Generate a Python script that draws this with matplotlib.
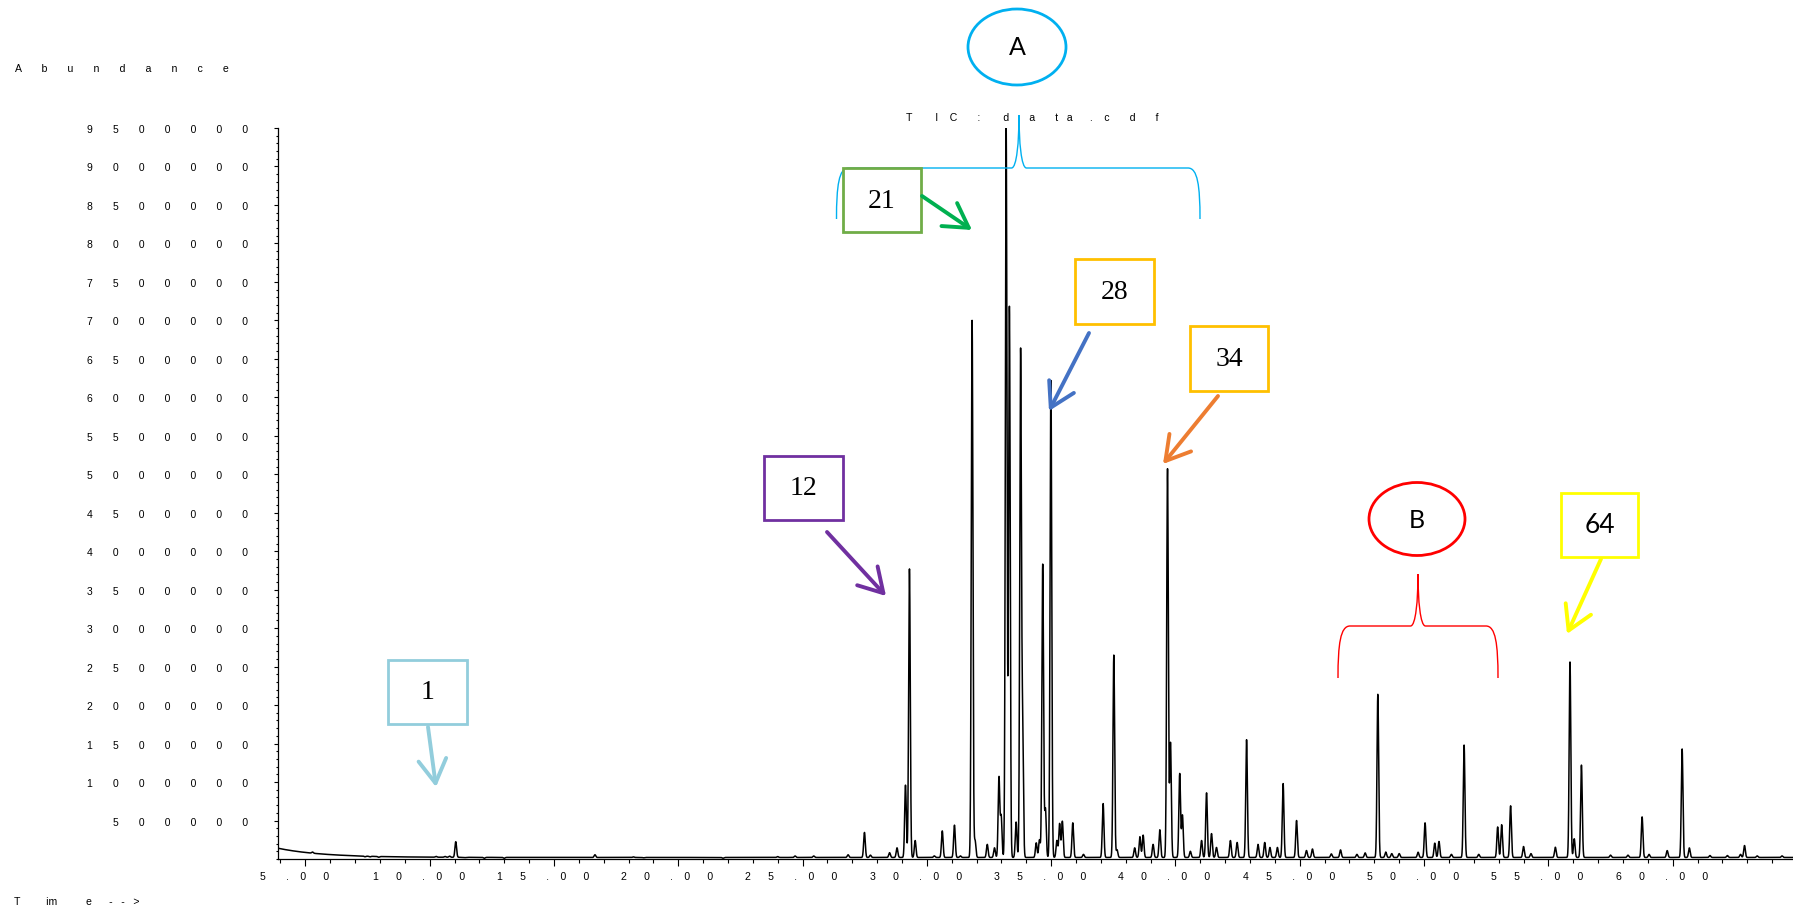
import numpy as np
import matplotlib
matplotlib.use("Agg")
import matplotlib.pyplot as plt
import matplotlib.transforms as mtransforms
from matplotlib.patches import Ellipse, Rectangle, FancyArrowPatch, PathPatch
from matplotlib.path import Path
from matplotlib.ticker import MultipleLocator, FixedLocator

plt.rcParams['font.family'] = ['Liberation Sans', 'DejaVu Sans']

W, H = 1793, 912

peak_times = [
    5.29, 7.40, 7.60, 7.95, 10.26, 10.62, 10.80, 11.05, 11.42, 12.20, 13.00,
    16.34, 16.65, 18.20, 18.60, 21.80, 24.00, 24.70, 25.45, 26.83,
    27.49, 27.73, 28.50, 28.80, 29.14, 29.30, 29.53, 30.30, 30.62, 31.11,
    31.35, 31.82, 31.94, 32.43, 32.72, 32.90, 32.99, 33.19, 33.32, 33.59,
    33.77, 33.85, 34.40, 34.53, 34.66, 34.77, 34.99, 35.23, 35.34, 35.45,
    35.87, 36.30, 37.09, 37.52, 37.65, 38.36, 38.57, 38.70, 39.10, 39.37,
    39.68, 39.80, 40.17, 40.28, 40.60, 41.05, 41.25, 41.45, 41.65, 42.21,
    42.48, 42.86, 43.32, 43.59, 43.80, 44.10, 44.33, 44.87, 45.27, 45.51,
    46.27, 46.64, 47.30, 47.63, 48.14, 48.46, 48.70, 49.00, 49.76, 50.04,
    50.43, 50.60, 51.10, 51.61, 52.20, 52.96, 53.12, 53.48, 54.00, 54.30,
    55.28, 55.87, 56.04, 56.33, 57.50, 58.20, 58.77, 59.05, 59.78, 60.38,
    60.67, 61.50, 62.20, 62.73, 62.89, 63.40, 64.40,
]
peak_heights = [
    35e3, 12e3, 12e3, 10e3, 30e3, 30e3, 35e3, 223e3, 16e3, 8e3, 8e3,
    20e3, 55e3, 27e3, 15e3, 10e3, 31e3, 39e3, 39e3, 55e3,
    345e3, 50e3, 82e3, 145e3, 960e3, 3.77e6, 240e3, 40e3, 365e3, 440e3,
    40e3, 7.00e6, 240e3, 190e3, 145e3, 1.06e6, 550e3, 9.50e6, 7.18e6, 480e3,
    6.55e6, 1.69e6, 210e3, 250e3, 3.83e6, 650e3, 6.22e6, 240e3, 460e3, 490e3,
    470e3, 60e3, 720e3, 2.65e6, 120e3, 145e3, 290e3, 310e3, 190e3, 380e3,
    5.07e6, 1.51e6, 1.11e6, 570e3, 100e3, 240e3, 860e3, 330e3, 150e3, 240e3,
    215e3, 1.55e6, 190e3, 215e3, 150e3, 150e3, 980e3, 500e3, 110e3, 130e3,
    66e3, 118e3, 60e3, 79e3, 2.14e6, 90e3, 70e3, 70e3, 88e3, 470e3,
    206e3, 228e3, 60e3, 1.48e6, 60e3, 416e3, 446e3, 691e3, 162e3, 70e3,
    153e3, 2.56e6, 263e3, 1.22e6, 50e3, 50e3, 547e3, 60e3, 109e3, 1.43e6,
    144e3, 45e3, 45e3, 60e3, 175e3, 40e3, 40e3,
]
peak_sigma = 0.033          # min
baseline_floor = 20e3
drift_start = 120e3         # solvent tail at the start of the run
drift_tau = 1.8             # min

t_start, t_end = 3.9, 64.84
y_ticks = list(range(500000, 9500001, 500000))
x_ticks = list(range(5, 61, 5))

# callouts (pixel positions, top-left origin)
boxes = [  # label, x0, y0, x1, y1, edge colour, font
    ("21", 843, 169, 921, 233, "#70AD47", "Liberation Serif"),
    ("28", 1075, 260, 1154, 325, "#FFC000", "Liberation Serif"),
    ("34", 1190, 327, 1268, 392, "#FFC000", "Liberation Serif"),
    ("12", 764, 457, 843, 521, "#7030A0", "Liberation Serif"),
    ("1", 388, 661, 467, 725, "#92CDDC", "Liberation Serif"),
    ("64", 1561, 494, 1638, 558, "#FFFF00", "Lato"),
]
arrows = [  # x_from, y_from, x_to, y_to, colour
    (922, 197, 972, 231, "#00B050"),
    (1089, 334, 1049, 412, "#4472C4"),
    (1218, 397, 1163, 465, "#ED7D31"),
    (827, 533, 886, 597, "#7030A0"),
    (428, 728, 436, 788, "#92CDDC"),
    (1601, 560, 1567, 635, "#FFFF00"),
]
groups = [  # label, ellipse cx, cy, w, h, brace x0, x1, xm, ybar, ytip, yend, colour
    ("A", 1017, 48, 98, 76, 836.5, 1200, 1019, 169, 116, 220, "#00B0F0"),
    ("B", 1417, 520, 96, 73, 1338, 1498, 1418, 627, 575, 679, "#FF0000"),
]


def fx(x):
    return x / W


def fy(y):
    return 1 - y / H


def spaced(s, gap):
    return (" " * gap).join(s)


def x_label(v):
    return spaced(str(v), 6) + " " * 7 + "." + " " * 4 + "0" + " " * 6 + "0"


def brace_path(x0, x1, xm, ybar, ytip, yend):
    dx, w = 12, 7.5
    pts = [
        (x0, yend), (x0, ybar + 0.35 * (yend - ybar)), (x0 + 0.2 * dx, ybar), (x0 + dx, ybar),
        (xm - w, ybar),
        (xm - 0.3 * w, ybar), (xm, ybar - 0.5 * (ybar - ytip)), (xm, ytip),
        (xm, ybar - 0.5 * (ybar - ytip)), (xm + 0.3 * w, ybar), (xm + w, ybar),
        (x1 - dx, ybar),
        (x1 - 0.2 * dx, ybar), (x1, ybar + 0.35 * (yend - ybar)), (x1, yend),
    ]
    codes = [Path.MOVETO, Path.CURVE4, Path.CURVE4, Path.CURVE4, Path.LINETO,
             Path.CURVE4, Path.CURVE4, Path.CURVE4, Path.CURVE4, Path.CURVE4, Path.CURVE4,
             Path.LINETO, Path.CURVE4, Path.CURVE4, Path.CURVE4]
    return Path([(fx(a), fy(b)) for a, b in pts], codes)


fig = plt.figure(figsize=(W / 100, H / 100), dpi=100)
ax = fig.add_axes([fx(278), fy(860), 1 - fx(278), fy(129) - fy(860)])

# TIC trace
t = np.linspace(t_start, t_end, 40000)
signal = baseline_floor + drift_start * np.exp(-(t - t_start) / drift_tau)
for tc, h in zip(peak_times, peak_heights):
    signal += (h - baseline_floor) * np.exp(-0.5 * ((t - tc) / peak_sigma) ** 2)
ax.plot(t, signal, color="black", lw=1.1)

ax.set_xlim(t_start, t_end)
ax.set_ylim(0, 9.5e6)
for side in ["top", "right"]:
    ax.spines[side].set_visible(False)
for side in ["left", "bottom"]:
    ax.spines[side].set_linewidth(0.9)

ax.yaxis.set_major_locator(FixedLocator(y_ticks))
ax.yaxis.set_minor_locator(MultipleLocator(100000))
ax.set_yticklabels([spaced(str(v), 7) for v in y_ticks], fontsize=7.5)
ax.tick_params(axis="y", which="major", length=3.2, width=0.8, pad=18.5)
ax.tick_params(axis="y", which="minor", length=1.8, width=0.8)

ax.xaxis.set_major_locator(FixedLocator(x_ticks))
ax.xaxis.set_minor_locator(MultipleLocator(1))
ax.set_xticklabels([x_label(v) for v in x_ticks], fontsize=7.6)
ax.tick_params(axis="x", which="major", length=5, width=0.8, pad=3.5)
ax.tick_params(axis="x", which="minor", length=3, width=0.8)
shift = mtransforms.ScaledTranslation(-11 / 100, 0, fig.dpi_scale_trans)
for lbl in ax.get_xticklabels():
    lbl.set_transform(lbl.get_transform() + shift)

# header / axis captions
fig.text(fx(15), fy(69), spaced("Abundance", 7), fontsize=7.6, va="center", ha="left")
fig.text(fx(14), fy(902), "T" + " " * 9 + "im" + " " * 10 + "e" + " " * 6 + "-" + " " * 3 + "-" + " " * 3 + ">",
         fontsize=7.6, va="center", ha="left")
tic = ("T" + " " * 8 + "I" + " " * 4 + "C" + " " * 7 + ":" + " " * 8 + "d" + " " * 7 + "a"
       + " " * 7 + "t" + " " * 3 + "a" + " " * 6 + "." + " " * 4 + "c" + " " * 7 + "d" + " " * 7 + "f")
fig.text(fx(906), fy(118), tic, fontsize=7.6, va="center", ha="left")

# group braces and ellipses
for lab, cx, cy, ew, eh, bx0, bx1, bxm, ybar, ytip, yend, col in groups:
    fig.add_artist(PathPatch(brace_path(bx0, bx1, bxm, ybar, ytip, yend), fill=False,
                             edgecolor=col, lw=1.0, transform=fig.transFigure, zorder=3))
    fig.add_artist(Ellipse((fx(cx), fy(cy)), ew / W, eh / H, fill=False, edgecolor=col,
                           lw=2.0, transform=fig.transFigure, zorder=4))
    fig.text(fx(cx), fy(cy), lab, fontsize=18, family=["Lato", "DejaVu Sans"],
             ha="center", va="center", zorder=5)

# numbered callout boxes
for lab, x0, y0, x1, y1, col, fam in boxes:
    fig.add_artist(Rectangle((fx(x0), fy(y1)), (x1 - x0) / W, (y1 - y0) / H,
                             facecolor="white", edgecolor=col, lw=2.0,
                             transform=fig.transFigure, zorder=4))
    fig.text(fx((x0 + x1) / 2), fy((y0 + y1) / 2), lab, fontsize=20 if fam != "Lato" else 19,
             family=[fam, "DejaVu Sans"], ha="center", va="center", zorder=5)

for xa, ya, xb, yb, col in arrows:
    fig.add_artist(FancyArrowPatch((fx(xa), fy(ya)), (fx(xb), fy(yb)),
                                   arrowstyle="->,head_length=0.85,head_width=0.5",
                                   mutation_scale=20, lw=2.8, color=col,
                                   shrinkA=0, shrinkB=0, transform=fig.transFigure, zorder=5))

fig.savefig("out.png", dpi=100)
